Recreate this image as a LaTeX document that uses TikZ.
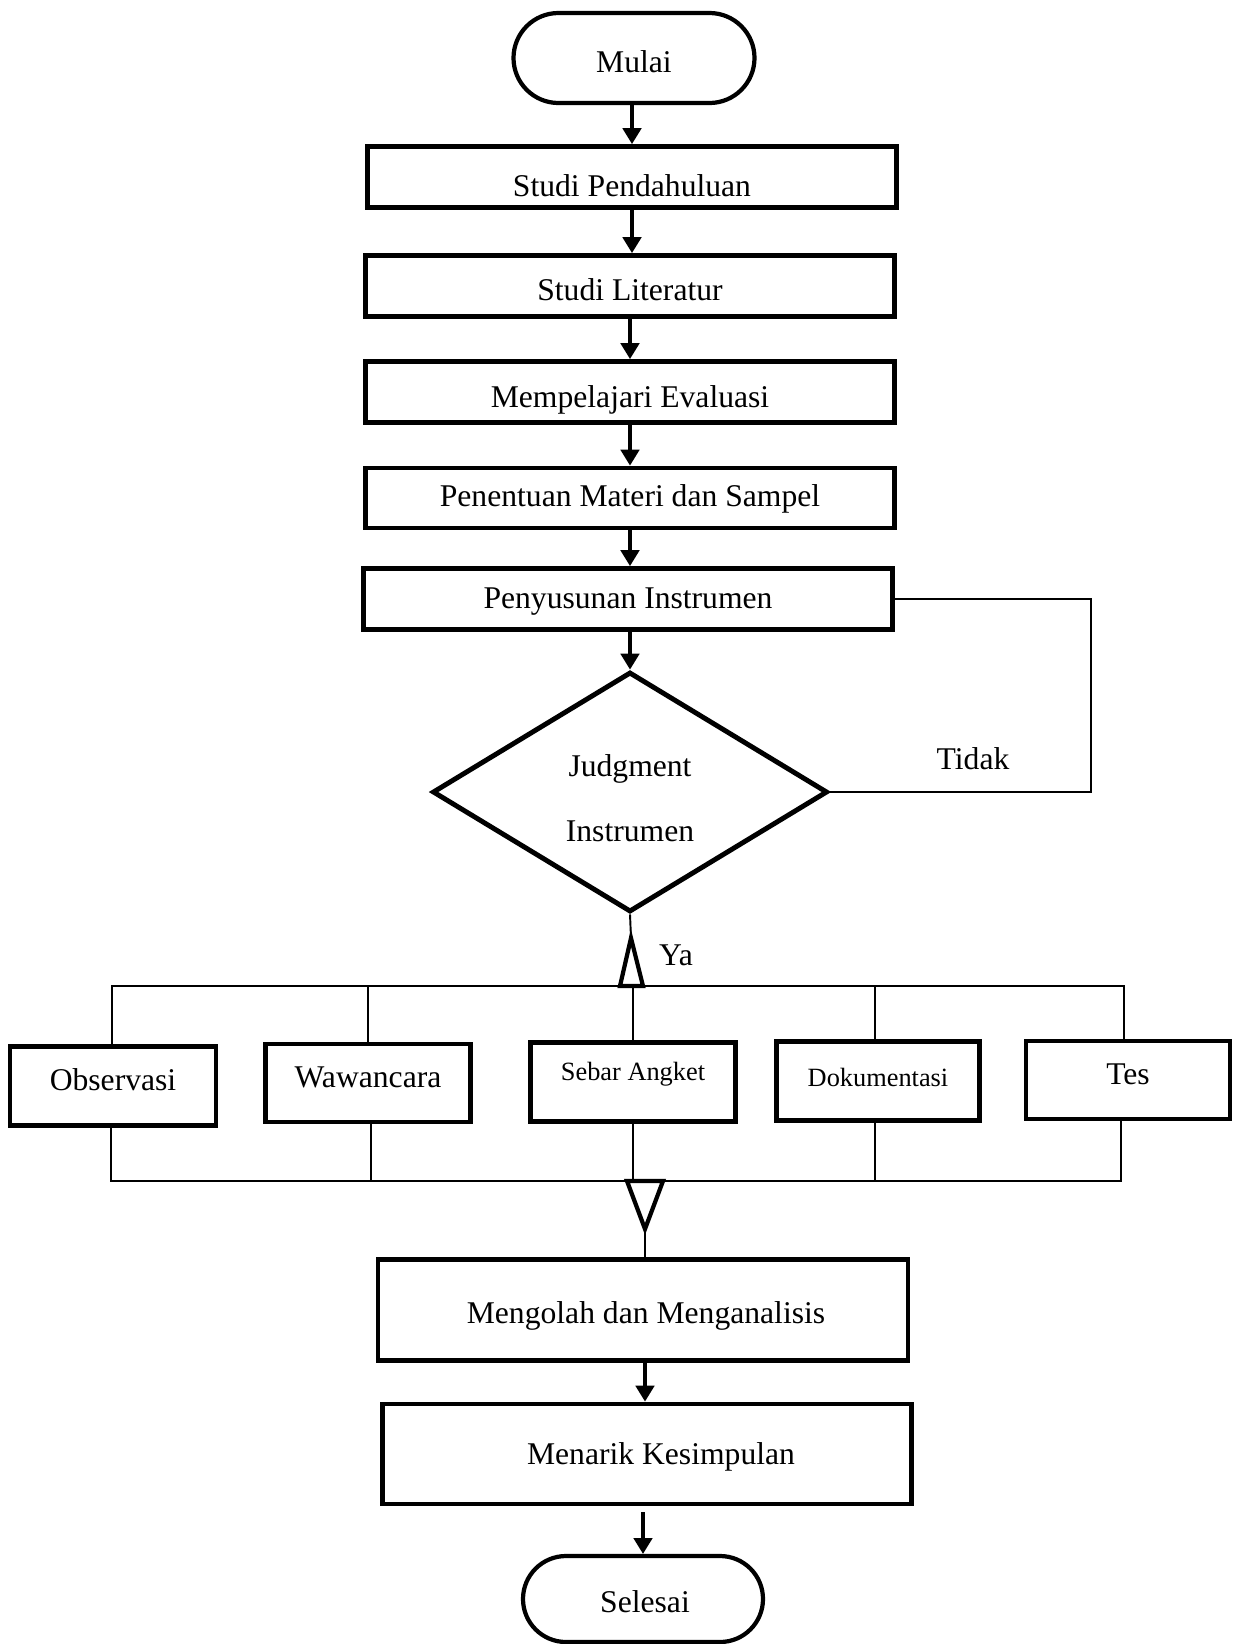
\documentclass[tikz,border=0pt]{standalone}
\usepackage{fontspec}
\setmainfont{Liberation Serif}
\usetikzlibrary{shapes.geometric,shapes.misc,arrows.meta,calc}
\def\pu{0.02cm}
\begin{document}
\begin{tikzpicture}[x=0.02cm,y=-0.02cm,
  big/.style={font=\fontsize{18}{20}\selectfont},
  small/.style={font=\fontsize{15}{17}\selectfont},
  box/.style={draw,line width=2.8pt,rectangle,inner sep=0pt},
  term/.style={draw,line width=2.4pt,rounded rectangle,inner sep=0pt},
  dec/.style={draw,line width=2.8pt,diamond,inner sep=0pt},
  arr/.style={line width=1.8pt,-{Triangle[width=10.5pt,length=9pt]}},
  conn/.style={line width=1.1pt},
  tri/.style={draw,line width=2.4pt,line join=miter},
]
\useasboundingbox (0,0) rectangle (1233,1644);

% main column
\node[term,minimum width=241*\pu,minimum height=90*\pu,label={[big,shift={(0,4)}]center:Mulai}] (mulai) at (634,58) {};
\node[box,minimum width=529*\pu,minimum height=61*\pu,label={[big,shift={(0,9)}]center:Studi Pendahuluan}] (stud) at (632,177) {};
\node[box,minimum width=529*\pu,minimum height=61*\pu,label={[big,shift={(0,4)}]center:Studi Literatur}] (lit) at (630,286) {};
\node[box,minimum width=529*\pu,minimum height=61*\pu,label={[big,shift={(0,8)}]center:Mempelajari Evaluasi}] (eval) at (630,392) {};
\node[box,minimum width=529*\pu,minimum height=60*\pu,label={[big,shift={(0,1)}]center:Penentuan Materi dan Sampel}] (mat) at (630,498) {};
\node[box,minimum width=529*\pu,minimum height=61*\pu,label={[big,shift={(0,3)}]center:Penyusunan Instrumen}] (peny) at (628,599) {};
\node[dec,minimum width=395*\pu,minimum height=240*\pu,label={[big,align=center,shift={(0,6)}]center:Judgment\\[17pt]Instrumen}] (judg) at (630,792) {};

\draw[arr] (mulai.south -| stud.north) -- (stud.north);
\draw[arr] (stud.south) -- (stud.south |- lit.north);
\draw[arr] (lit.south) -- (lit.south |- eval.north);
\draw[arr] (eval.south) -- (eval.south |- mat.north);
\draw[arr] (mat.south) -- (mat.south |- peny.north);
\draw[arr] (peny.south -| judg.north) -- (judg.north);

% feedback loop
\coordinate (fb) at (1091,0);
\draw[conn] (peny.east) -- (peny.east -| fb) -- (judg.east -| fb) -- (judg.east);
\node[big] (tidak) at (973,759) {Tidak};

% Ya branch
\coordinate (yatip) at (631,938);
\coordinate (busT) at (0,986);
\coordinate (busB) at (0,1181);
\draw[conn] (judg.south) -- (yatip);
\draw[tri] (620,986) -- (yatip) -- (643,986) -- cycle;
\node[big] (ya) at (676,955) {Ya};

% method boxes
\node[box,minimum width=206*\pu,minimum height=79*\pu,label={[big,shift={(0,-6)}]center:Observasi}] (obs) at (113,1086) {};
\node[box,minimum width=205*\pu,minimum height=78*\pu,label={[big,shift={(0,-6)}]center:Wawancara}] (waw) at (368,1083) {};
\node[box,minimum width=205*\pu,minimum height=79*\pu,label={[small,shift={(0,-8)}]center:Sebar Angket}] (ang) at (633,1082) {};
\node[box,minimum width=203*\pu,minimum height=79*\pu,label={[small,shift={(0,-4)}]center:Dokumentasi}] (dok) at (878,1081) {};
\node[box,minimum width=204*\pu,minimum height=78*\pu,label={[big,shift={(0,-6)}]center:Tes}] (tes) at (1128,1080) {};

% top bus
\draw[conn] ([xshift=-1*\pu]obs.north) -- ([xshift=-1*\pu]obs.north |- busT) -- ([xshift=-4*\pu]tes.north |- busT) -- ([xshift=-4*\pu]tes.north);
\draw[conn] (waw.north) -- (waw.north |- busT);
\draw[conn] (ang.north) -- (ang.north |- busT);
\draw[conn] ([xshift=-3*\pu]dok.north) -- ([xshift=-3*\pu]dok.north |- busT);

% bottom bus
\draw[conn] ([xshift=-2*\pu]obs.south) -- ([xshift=-2*\pu]obs.south |- busB) -- ([xshift=-7*\pu]tes.south |- busB) -- ([xshift=-7*\pu]tes.south);
\draw[conn] ([xshift=3*\pu]waw.south) -- ([xshift=3*\pu]waw.south |- busB);
\draw[conn] (ang.south) -- (ang.south |- busB);
\draw[conn] ([xshift=-3*\pu]dok.south) -- ([xshift=-3*\pu]dok.south |- busB);

% merge triangle
\coordinate (mtip) at (645,1229);
\draw[tri] (627,1181) -- (mtip) -- (663,1181) -- cycle;

% lower column
\node[box,minimum width=530*\pu,minimum height=101*\pu,label={[big,shift={(3,6)}]center:Mengolah dan Menganalisis}] (olah) at (643,1310) {};
\node[box,minimum width=529*\pu,minimum height=100*\pu,label={[big,shift={(14,3)}]center:Menarik Kesimpulan}] (tarik) at (647,1454) {};
\node[term,minimum width=240*\pu,minimum height=86*\pu,label={[big,shift={(2,3)}]center:Selesai}] (selesai) at (643,1599) {};

\draw[conn] (mtip) -- (mtip |- olah.north);
\draw[arr] (olah.south -| mtip) -- (mtip |- tarik.north);
\draw[arr] ([yshift=-6*\pu]tarik.south -| selesai.north) -- (selesai.north);
\end{tikzpicture}
\end{document}
